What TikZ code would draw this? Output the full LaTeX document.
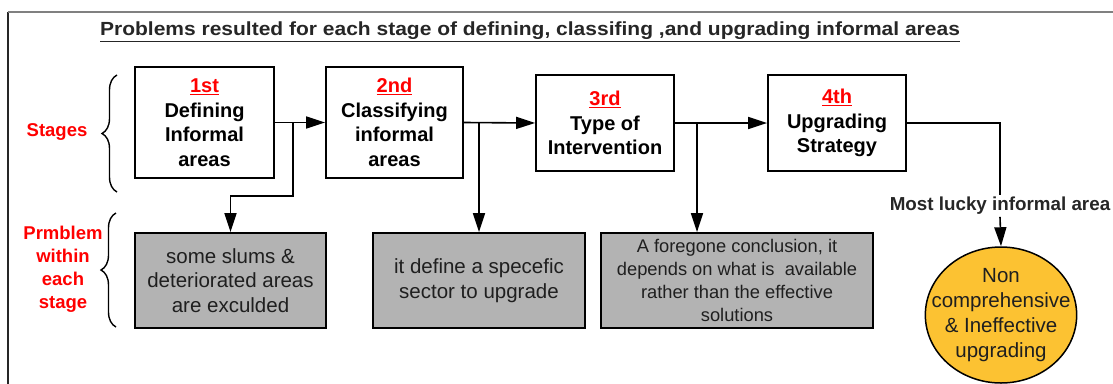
\documentclass[tikz,border=0pt]{standalone}
\usepackage{fontspec}
\setmainfont{Liberation Sans}
\usetikzlibrary{arrows.meta,shapes.geometric,decorations.pathreplacing}

\definecolor{probgray}{RGB}{179,179,179}
\definecolor{luckyyellow}{RGB}{252,194,50}
\newcommand{\stagenum}[1]{\textcolor{red}{\underline{#1}}}

\tikzset{
	stagebox/.style={draw, line width=1.8pt, align=center, inner sep=0pt,
		font=\fontsize{20}{24.5}\selectfont\bfseries},
	probbox/.style={draw, fill=probgray, line width=1.8pt, align=center, inner sep=0pt,
		text=black!88, font=\fontsize{20.5}{24.5}\selectfont},
	wire/.style={line width=1.6pt},
	flow/.style={wire, -{Triangle[length=19pt,width=12pt]}},
	redlabel/.style={text=red, align=center, font=\fontsize{18.5}{23}\selectfont\bfseries},
	stagebrace/.style={decorate, decoration={brace, amplitude=15pt}, line width=1.4pt}
}

\begin{document}
\begin{tikzpicture}[x=1pt,y=-1pt]
	\clip (0,0) rectangle (1113,383);
	% frame
	\draw[black!85, line width=1.3pt] (8,12) -- (8,400);
	\draw[black!50, line width=1.3pt] (8,12) -- (1130,12);
	\node[font=\fontsize{19}{22}\selectfont\bfseries, text=black!85] (title) at (530,32)
		{\scalebox{1.105}[1]{\underline{Problems resulted for each stage of defining, classifing ,and upgrading informal areas}}};

	% stages
	\node[stagebox, minimum width=139pt, minimum height=111pt] (s1) at (204.5,122.5) {\stagenum{1st}\\Defining\\Informal\\areas};
	\node[stagebox, minimum width=137pt, minimum height=111pt] (s2) at (394.5,122.5) {\stagenum{2nd}\\Classifying\\informal\\areas};
	\node[stagebox, minimum width=138pt, minimum height=96pt] (s3) at (605,123) {\stagenum{3rd}\\Type of\\Intervention};
	\node[stagebox, minimum width=138pt, minimum height=96pt] (s4) at (837,123) {\stagenum{4th}\\Upgrading\\Strategy};

	% problems
	\node[probbox, minimum width=191pt, minimum height=95pt] (p1) at (230.5,280.5) {some slums \&\\deteriorated areas\\are exculded};
	\node[probbox, minimum width=212pt, minimum height=95pt] (p2) at (479,280.5) {it define a specefic\\sector to upgrade};
	\node[probbox, minimum width=272pt, minimum height=95pt, font=\fontsize{18.3}{22.7}\selectfont] (p3) at (737,280.5)
		{A foregone conclusion, it\\depends on what is \ available\\rather than the effective\\solutions};
	\node[ellipse, draw, fill=luckyyellow, line width=1.5pt, inner xsep=-16pt, inner ysep=-5pt, align=center,
		minimum width=151pt, minimum height=136pt, text=black!88,
		font=\fontsize{20.5}{25}\selectfont] (goal) at (1001,315) {Non\\comprehensive\\\& Ineffective\\upgrading};
	\node[font=\fontsize{18.8}{22}\selectfont\bfseries, text=black!85, inner sep=2pt] (lucky) at (1000,206) {Most lucky informal area};

	% side labels
	\node[redlabel] (stages) at (57,132) {Stages};
	\node[redlabel] (problem) at (63,269) {Prmblem\\within\\each\\stage};
	\draw[stagebrace] (117,192) -- (117,75);
	\draw[stagebrace] (116,327) -- (116,213);

	% connectors
	\coordinate (j1) at (293,122.5);
	\coordinate (k1) at (230.5,196);
	\coordinate (j2) at (479,122.5);
	\coordinate (j3) at (697,123);
	\coordinate (c4) at (1000,123);
	\draw[flow] (s1.east) -- (s2.west);
	\draw[flow] (s2.east) -- (s3.west);
	\draw[flow] (s3.east) -- (s4.west);
	\draw[flow] (j1) |- (k1) -- (p1.north);
	\draw[flow] (j2) -- (p2.north);
	\draw[flow] (j3) -- (j3 |- p3.north);
	\draw[wire] (s4.east) -- (c4) -- (lucky.north);
	\draw[flow] (lucky.south) -- (goal.north);
\end{tikzpicture}
\end{document}
